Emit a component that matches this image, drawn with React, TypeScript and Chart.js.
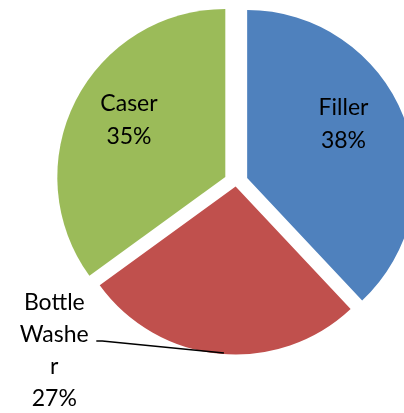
import React, { useEffect, useRef } from "react";
import { Chart, registerables } from "chart.js";

Chart.register(...registerables);

const categories = ["Filler", "Bottle Washer", "Caser"];
const shares = [38, 27, 35];
const percentLabels = ["38%", "27%", "35%"];
const sliceColors = ["#4F81BD", "#C0504D", "#9BBB59"];
const explodePx = [12, 4, 12];

const FONT = "23px Lato";

// explode slices by moving each arc element along its bisector (keeps the radius)
const explodePlugin = {
  id: "explode",
  afterDatasetUpdate(chart: any, args: any) {
    const meta = chart.getDatasetMeta(args.index);
    meta.data.forEach((arc: any, i: number) => {
      const half = (arc.startAngle + arc.endAngle) / 2;
      const off = explodePx[i] || 0;
      arc.x += Math.cos(half) * off;
      arc.y += Math.sin(half) * off;
    });
  },
};

const labelPlugin = {
  id: "sliceLabels",
  afterDatasetsDraw(chart: any) {
    const ctx = chart.ctx;
    const meta = chart.getDatasetMeta(0);
    ctx.save();
    ctx.fillStyle = "#000";
    ctx.font = FONT;
    ctx.textAlign = "center";
    ctx.textBaseline = "alphabetic";
    const cx = (chart.chartArea.left + chart.chartArea.right) / 2;
    const cy = (chart.chartArea.top + chart.chartArea.bottom) / 2;
    // Filler (inside)
    ctx.fillText(categories[0], cx + 107.5, cy - 67.5);
    ctx.fillText(percentLabels[0], cx + 107.5, cy - 34.5);
    // Caser (inside)
    ctx.fillText(categories[2], cx - 107, cy - 71.5);
    ctx.fillText(percentLabels[2], cx - 107, cy - 38.5);
    // Bottle Washer (outside, wrapped)
    const lines = ["Bottle", "Washe", "r", percentLabels[1]];
    const bx = cx - 181.7;
    lines.forEach((t, i) => ctx.fillText(t, bx, cy + 127.5 + i * 32));
    // leader line to the red slice edge
    const arc = meta.data[1];
    const ang = (184 - 90) * Math.PI / 180;
    const ex = arc.x + Math.cos(ang) * arc.outerRadius;
    const ey = arc.y + Math.sin(ang) * arc.outerRadius;
    ctx.strokeStyle = "#000";
    ctx.lineWidth = 1.6;
    ctx.beginPath();
    ctx.moveTo(cx - 139.7, cy + 158.5);
    ctx.lineTo(cx - 133.7, cy + 158.5);
    ctx.lineTo(ex, ey - 1);
    ctx.stroke();
    ctx.restore();
  },
};

export default function App() {
  const ref = useRef<HTMLCanvasElement>(null);
  useEffect(() => {
    if (!ref.current) return;
    const chart = new Chart(ref.current, {
      type: "pie",
      data: {
        labels: categories,
        datasets: [
          {
            data: shares,
            backgroundColor: sliceColors,
            borderWidth: 0,
            clip: false as any,
          } as any,
        ],
      },
      options: {
        responsive: false,
        maintainAspectRatio: false,
        animation: false,
        radius: 168,
        layout: { padding: { top: 0, bottom: 48, left: 0, right: 0 } },
        plugins: {
          legend: { display: false },
          tooltip: { enabled: false },
        },
      } as any,
      plugins: [explodePlugin, labelPlugin],
    });
    return () => chart.destroy();
  }, []);
  return (
    <div
      style={{
        position: "fixed",
        left: 0,
        top: 0,
        width: 404,
        height: 413,
        overflow: "hidden",
        background: "#fff",
      }}
    >
      <canvas
        ref={ref}
        width={472}
        height={413}
        style={{ display: "block", width: 472, height: 413 }}
      />
    </div>
  );
}
